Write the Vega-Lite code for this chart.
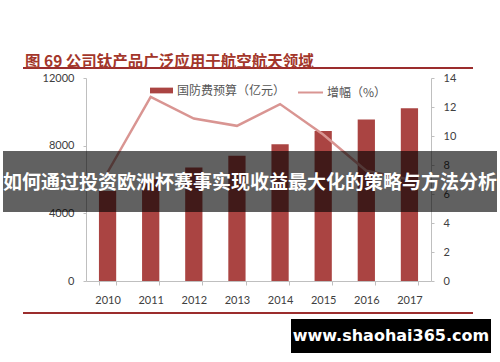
{
  "$schema": "https://vega.github.io/schema/vega-lite/v6.json",
  "autosize": "none",
  "width": 345,
  "height": 203,
  "padding": {"left": 86, "top": 78, "right": 69, "bottom": 81},
  "background": "white",
  "config": {"view": {"stroke": null}, "font": "Lato"},
  "title": {
    "text": "图 69  公司钛产品广泛应用于航空航天领域",
    "anchor": "start",
    "frame": "group",
    "dx": -61,
    "dy": 15,
    "offset": 12,
    "font": "Noto Sans CJK SC",
    "fontSize": 15.5,
    "fontWeight": "bold",
    "color": "#A3362A"
  },
  "data": {
    "values": [
      {"year": "2010", "budget": 5321, "growth": 7.5, "s1": "国防费预算（亿元）", "s2": "增幅（%）"},
      {"year": "2011", "budget": 6011, "growth": 12.7, "s1": "国防费预算（亿元）", "s2": "增幅（%）"},
      {"year": "2012", "budget": 6703, "growth": 11.2, "s1": "国防费预算（亿元）", "s2": "增幅（%）"},
      {"year": "2013", "budget": 7406, "growth": 10.7, "s1": "国防费预算（亿元）", "s2": "增幅（%）"},
      {"year": "2014", "budget": 8082, "growth": 12.2, "s1": "国防费预算（亿元）", "s2": "增幅（%）"},
      {"year": "2015", "budget": 8869, "growth": 10.1, "s1": "国防费预算（亿元）", "s2": "增幅（%）"},
      {"year": "2016", "budget": 9543, "growth": 7.6, "s1": "国防费预算（亿元）", "s2": "增幅（%）"},
      {"year": "2017", "budget": 10211, "growth": 7.0, "s1": "国防费预算（亿元）", "s2": "增幅（%）"}
    ]
  },
  "encoding": {
    "x": {
      "field": "year",
      "type": "ordinal",
      "scale": {"paddingInner": 0.6, "paddingOuter": 0.3},
      "axis": {
        "title": null,
        "labelAngle": 0,
        "tickBand": "extent",
        "domainColor": "#BFBFBF",
        "tickColor": "#BFBFBF",
        "tickSize": 4,
        "labelPadding": 9,
        "labelFontSize": 11,
        "labelColor": "#404040",
        "labelFont": "Lato"
      }
    }
  },
  "layer": [
    {
      "layer": [
        {
          "mark": {"type": "bar", "color": "#AA4442"},
          "encoding": {
            "y": {
              "field": "budget",
              "type": "quantitative",
              "scale": {"domain": [0, 12000], "nice": false},
              "axis": {
                "title": null,
                "orient": "left",
                "format": "d",
                "values": [0, 2000, 4000, 6000, 8000, 10000, 12000],
                "grid": false,
                "domainColor": "#BFBFBF",
                "tickColor": "#BFBFBF",
                "tickSize": 3,
                "labelPadding": 9,
                "labelFontSize": 11,
                "labelColor": "#404040",
                "labelFont": "Lato"
              }
            },
            "fill": {
              "field": "s1",
              "type": "nominal",
              "scale": {"range": ["#AA4442"]},
              "legend": {
                "title": null,
                "orient": "none",
                "legendX": 64,
                "legendY": 1,
                "padding": 0,
                "symbolType": "M-1,-0.25H1V0.25H-1Z",
                "symbolSize": 529,
                "symbolStrokeWidth": 0,
                "labelFont": "Noto Sans CJK SC",
                "labelFontSize": 12,
                "labelColor": "#555555",
                "labelOffset": 4
              }
            }
          }
        },
        {
          "data": {"values": [{"edge": 12591}, {"edge": -1892}]},
          "mark": {"type": "rule", "color": "#9B2D2D", "strokeWidth": 2, "clip": false},
          "encoding": {
            "x": {"value": -63},
            "x2": {"value": 387},
            "y": {"field": "edge", "type": "quantitative"}
          }
        }
      ]
    },
    {
      "mark": {"type": "line", "strokeWidth": 2.5},
      "encoding": {
        "y": {
          "field": "growth",
          "type": "quantitative",
          "scale": {"domain": [0, 14], "nice": false},
          "axis": {
            "title": null,
            "orient": "right",
            "values": [0, 2, 4, 6, 8, 10, 12, 14],
            "grid": false,
            "domainColor": "#BFBFBF",
            "tickColor": "#BFBFBF",
            "tickSize": 3,
            "labelPadding": 9,
            "labelFontSize": 11,
            "labelColor": "#404040",
            "labelFont": "Lato"
          }
        },
        "stroke": {
          "field": "s2",
          "type": "nominal",
          "scale": {"range": ["#D99592"]},
          "legend": {
            "title": null,
            "orient": "none",
            "legendX": 211,
            "legendY": 1,
            "padding": 0,
            "symbolType": "stroke",
            "symbolSize": 625,
            "symbolStrokeWidth": 2,
            "labelFont": "Noto Sans CJK SC",
            "labelFontSize": 12,
            "labelColor": "#555555",
            "labelOffset": 3
          }
        }
      }
    },
    {
      "data": {"values": [{"label": "www.shaohai365.com"}]},
      "layer": [
        {
          "mark": {"type": "rect", "color": "#000000", "clip": false},
          "encoding": {
            "x": {"value": 205},
            "x2": {"value": 405},
            "y": {"value": 241},
            "y2": {"value": 275}
          }
        },
        {
          "mark": {"type": "text", "color": "#FFFFFF", "font": "DejaVu Sans", "fontSize": 16, "fontWeight": "bold", "align": "center", "baseline": "middle"},
          "encoding": {
            "text": {"field": "label"},
            "x": {"value": 305},
            "y": {"value": 258}
          }
        }
      ]
    },
    {
      "data": {"values": [{"label": "如何通过投资欧洲杯赛事实现收益最大化的策略与方法分析"}]},
      "layer": [
        {
          "mark": {"type": "rect", "color": "#000000", "opacity": 0.62},
          "encoding": {
            "x": {"value": -83},
            "x2": {"value": 411},
            "y": {"value": 73},
            "y2": {"value": 134}
          }
        },
        {
          "mark": {"type": "text", "color": "#FFFFFF", "font": "Noto Sans CJK SC", "fontSize": 19, "fontWeight": "bold", "align": "center", "baseline": "middle"},
          "encoding": {
            "text": {"field": "label"},
            "x": {"value": 164},
            "y": {"value": 105}
          }
        }
      ]
    }
  ],
  "resolve": {"scale": {"y": "independent", "fill": "independent", "stroke": "independent"}}
}
